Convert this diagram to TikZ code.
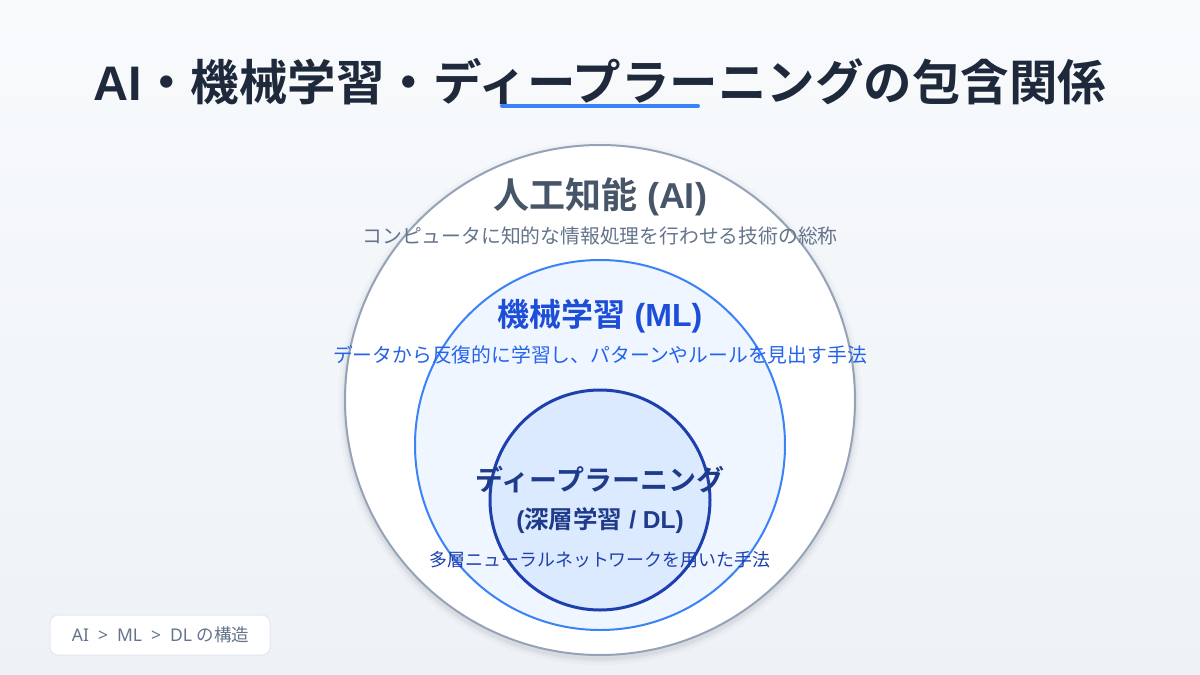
\documentclass[tikz,border=0pt]{standalone}
\usepackage{fontspec}
\setmainfont{Noto Sans CJK JP}
\newfontfamily\jpbold{Noto Sans CJK JP Bold}
\newfontfamily\lat{Noto Sans}
\newfontfamily\latb{Liberation Sans}
\newcommand{\LB}[1]{{\latb\bfseries #1}}
\newcommand{\LR}[1]{{\lat #1}}
\usetikzlibrary{calc}
\definecolor{bgtop}{HTML}{F8FAFC}
\definecolor{bgbot}{HTML}{EEF2F7}
\definecolor{titlec}{HTML}{1E293B}
\definecolor{accent}{HTML}{3B82F6}
\definecolor{aistroke}{HTML}{94A3B8}
\definecolor{aitext}{HTML}{475569}
\definecolor{aisub}{HTML}{64748B}
\definecolor{mlfill}{HTML}{EFF6FF}
\definecolor{mlstroke}{HTML}{3B82F6}
\definecolor{mltext}{HTML}{1D4ED8}
\definecolor{mlsub}{HTML}{2563EB}
\definecolor{dlfill}{HTML}{DBEAFE}
\definecolor{dlstroke}{HTML}{1E40AF}
\definecolor{dltext}{HTML}{1E3A8A}
\definecolor{dlsub}{HTML}{1E40AF}
\definecolor{boxstroke}{HTML}{E2E8F0}
\tikzset{
  lbl/.style={inner sep=0pt, anchor=center},
  big/.style={lbl, font=\jpbold\fontsize{#1}{#1}\selectfont},
  small/.style={lbl, font=\fontsize{#1}{#1}\selectfont},
}
\begin{document}
\begin{tikzpicture}[x=1pt,y=-1pt]
\useasboundingbox (0,0) rectangle (1200,675);
\shade[top color=bgtop, bottom color=bgbot] (0,0) rectangle (1200,675);
% title
\node[big=48.5, text=titlec] (title) at (600,82) {\LB{AI}・機械学習・ディープラーニングの包含関係};
\coordinate (ulA) at (502,106);
\coordinate (ulB) at (698,106);
\draw[accent, line width=4pt, line cap=round] (ulA) -- (ulB);
% shadow of outer circle
\foreach \r/\o in {262/0.02,259/0.03,257/0.04}{
  \fill[black, opacity=\o] (600,403) circle[radius=\r pt];
}
% circles
\draw[fill=white, draw=aistroke, line width=2pt] (600,400) circle[radius=255pt] coordinate (ai);
\draw[fill=mlfill, draw=mlstroke, line width=2pt] (600,445) circle[radius=185pt] coordinate (ml);
\draw[fill=dlfill, draw=dlstroke, line width=3pt] (600,500) circle[radius=110pt] coordinate (dl);
% texts
\node[big=36, text=aitext] (aititle) at (600,197) {人工知能\LB{ (AI)}};
\node[small=19.8, text=aisub] (aidesc) at (600,236) {コンピュータに知的な情報処理を行わせる技術の総称};
\node[big=32, text=mltext] (mltitle) at (600,316) {機械学習\LB{ (ML)}};
\node[small=19.8, text=mlsub] (mldesc) at (600,355) {データから反復的に学習し、パターンやルールを見出す手法};
\node[big=28, text=dltext] (dltitle) at (600,480) {ディープラーニング};
\node[big=24.5, text=dltext] (dlsubt) at (600,521) {\LB{(}深層学習\LB{ / DL)}};
\node[small=17.9, text=dlsub] (dldesc) at (600,560) {多層ニューラルネットワークを用いた手法};
% footer
\draw[fill=white, draw=boxstroke, line width=1pt, rounded corners=8pt] (50,615) rectangle (270,655);
\node[small=17.5, text=aisub] (footer) at (160.5,635) {\LR{AI\hspace{9pt}>\hspace{9pt}ML\hspace{9pt}>\hspace{9pt}DL }の構造};
\end{tikzpicture}
\end{document}
